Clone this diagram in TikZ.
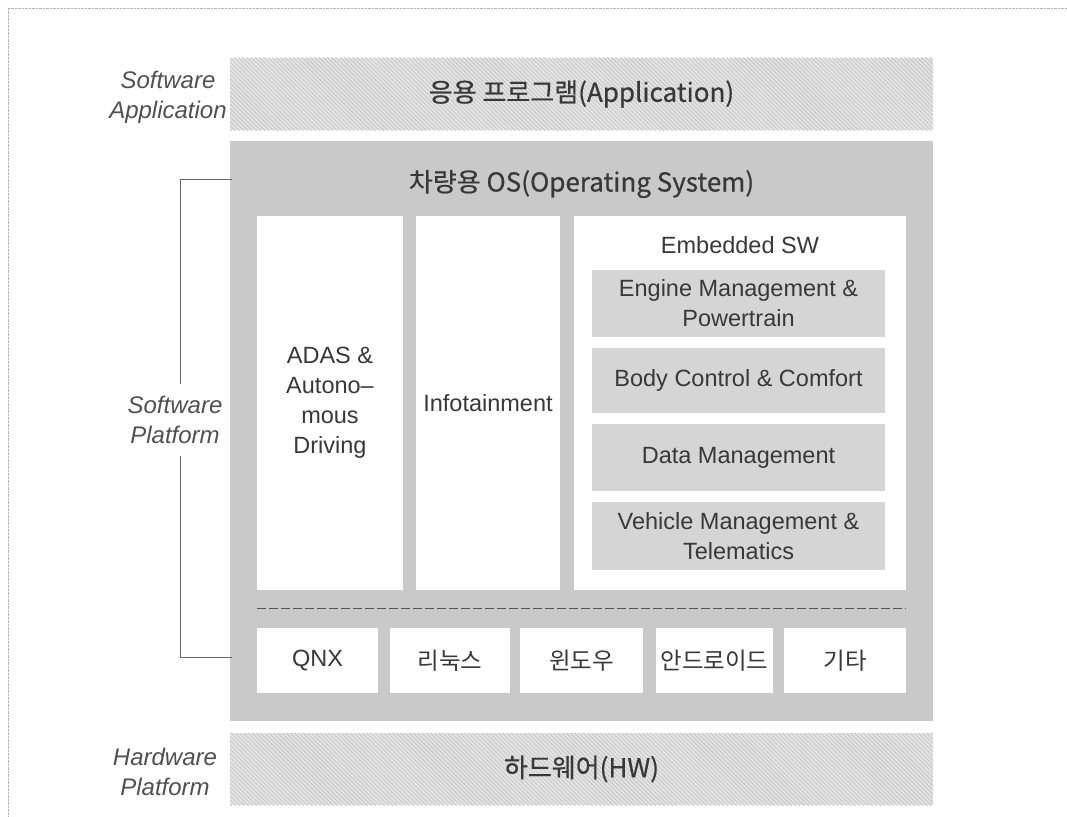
\documentclass[tikz,border=0pt]{standalone}
\usepackage{fontspec}
\setmainfont{Liberation Sans}
\newfontfamily\kr{Noto Sans CJK KR}
\newfontfamily\krb{Noto Sans CJK KR}[FakeBold=0.6]
\usetikzlibrary{positioning,patterns.meta}

\definecolor{osgray}{HTML}{C9C9C9}
\definecolor{subgray}{HTML}{D5D5D5}
\definecolor{txtgray}{HTML}{383838}
\definecolor{labgray}{HTML}{505050}

\newcommand{\bodyfont}{\fontsize{23.5}{30}\selectfont}
\newcommand{\titlefont}{\fontsize{26}{30}\selectfont\krb}
\newcommand{\labfont}{\fontsize{24}{30}\selectfont\itshape}

\begin{document}
\begin{tikzpicture}[
    x=1pt, y=-1pt,
    every node/.style={
        text=txtgray,
        align=center,
        inner sep=0pt,
        font=\bodyfont
    },
    band/.style={
        minimum width=703pt,
        minimum height=72pt,
        fill=gray!22,
        font=\titlefont,
        postaction={pattern={Lines[angle=135,distance=3pt,line width=0.6pt]},
                    pattern color=gray!50}
    },
    osbox/.style={fill=osgray, minimum width=703pt, minimum height=580pt},
    swbox/.style={fill=white, minimum height=374pt},
    subbox/.style={fill=subgray, minimum width=293pt},
    kernel/.style={fill=white, minimum height=65pt},
    layer/.style={text=labgray, font=\labfont},
    bracket/.style={draw=gray!80!black, line width=1pt},
    sepline/.style={draw=gray!65!black, line width=0.8pt, dash pattern=on 9pt off 3pt}
]

\useasboundingbox (0,0) rectangle (1067,816);
\draw[gray!60, densely dotted] (8,816) -- (8,8) -- (1067,8);

% layers
\node[band] (app) at (581.5,94) {응용 프로그램(Application)};
\node[osbox] (os) at (581.5,431) {};
\node[band] (hw) at (581.5,769) {하드웨어(HW)};

\node[font=\titlefont] (ostitle) at (581.5,184) {차량용 OS(Operating System)};

% software platform
\node[swbox, minimum width=146pt] (adas) at (330,403) {ADAS \&\\Autono–\\mous\\Driving};
\node[swbox, minimum width=144pt] (info) at (488,403) {Infotainment};
\node[swbox, minimum width=332pt] (emb) at (740,403) {};
\node (embtitle) at (740,245) {Embedded SW};

\node[subbox, minimum height=67pt] (engine) at (738.5,303.5) {Engine Management \&\\Powertrain};
\node[subbox, minimum height=65pt] (body) at (738.5,380.5) {Body Control \& Comfort};
\node[subbox, minimum height=67pt] (data) at (738.5,457.5) {Data Management};
\node[subbox, minimum height=68pt] (vehicle) at (738.5,536) {Vehicle Management \&\\Telematics};

\coordinate (dl) at (257,608);
\coordinate (dr) at (906,608);
\draw[sepline] (dl) -- (dr);

% kernels
\node[kernel, minimum width=121pt] (qnx) at (317.5,660.5) {QNX};
\node[kernel, minimum width=120pt] (linux) at (450,660.5) {\kr 리눅스};
\node[kernel, minimum width=123pt] (win) at (581.5,660.5) {\kr 윈도우};
\node[kernel, minimum width=117pt] (android) at (714.5,660.5) {\kr 안드로이드};
\node[kernel, minimum width=122pt] (etc) at (845,660.5) {\kr 기타};

% layer labels
\node[layer] (swa) at (168,97) {Software\\Application};
\node[layer, inner ysep=12pt] (swp) at (175,420) {Software\\Platform};
\node[layer] (hwp) at (165,772) {Hardware\\Platform};

\coordinate (bt) at (232,179);
\coordinate (bb) at (232,657);
\draw[bracket] (bt) -- ++(-52,0) coordinate (btl) -- (btl |- swp.north);
\draw[bracket] (bb) -- ++(-52,0) coordinate (bbl) -- (bbl |- swp.south);

\end{tikzpicture}
\end{document}
